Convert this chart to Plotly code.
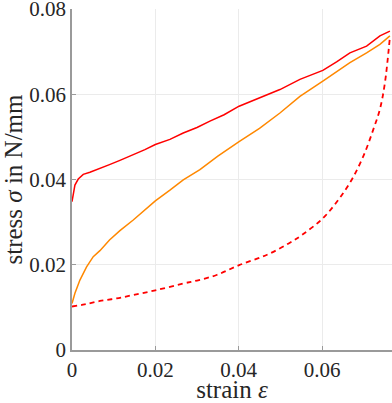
"""Courbes contrainte-deformation (charge / decharge)"""
from plotly.graph_objects import Scatter, Figure

# courbe de charge (rouge, trait plein)
x_charge = [0, 0.0003, 0.0007, 0.0015, 0.0027, 0.0043, 0.0067, 0.0090, 0.0115,
            0.0147, 0.0175, 0.0200, 0.0235, 0.0267, 0.0300, 0.0331, 0.0365,
            0.0401, 0.0435, 0.0467, 0.0499, 0.0547, 0.0575, 0.0602, 0.0635,
            0.0667, 0.0707, 0.0739, 0.0763]
y_charge = [0.0348, 0.0368, 0.0387, 0.0401, 0.0412, 0.0417, 0.0427, 0.0435, 0.0445,
            0.0458, 0.0470, 0.0482, 0.0494, 0.0509, 0.0522, 0.0537, 0.0552,
            0.0572, 0.0585, 0.0599, 0.0611, 0.0635, 0.0645, 0.0656, 0.0676,
            0.0697, 0.0713, 0.0737, 0.0748]

# courbe orange
x_orange = [0, 0.0003, 0.0007, 0.0019, 0.0035, 0.0051, 0.0067, 0.0090, 0.0115,
            0.0147, 0.0175, 0.0200, 0.0235, 0.0267, 0.0307, 0.0350, 0.0401,
            0.0450, 0.0499, 0.0547, 0.0602, 0.0667, 0.0707, 0.0739, 0.0763]
y_orange = [0.0109, 0.0120, 0.0133, 0.0164, 0.0195, 0.0219, 0.0233, 0.0258, 0.0280,
            0.0305, 0.0328, 0.0350, 0.0375, 0.0399, 0.0423, 0.0455, 0.0489,
            0.0520, 0.0556, 0.0595, 0.0631, 0.0674, 0.0697, 0.0717, 0.0737]

# courbe de decharge (rouge, tirets)
x_decharge = [0, 0.0030, 0.0067, 0.0107, 0.0147, 0.0200, 0.0267, 0.0300, 0.0347,
              0.0401, 0.0467, 0.0520, 0.0555, 0.0602, 0.0639, 0.0671, 0.0699,
              0.0723, 0.0739, 0.0751, 0.0763]
y_decharge = [0.0102, 0.0107, 0.0115, 0.0121, 0.0129, 0.0140, 0.0156, 0.0163, 0.0176,
              0.0199, 0.0223, 0.0250, 0.0272, 0.0309, 0.0352, 0.0399, 0.0454,
              0.0517, 0.0565, 0.0627, 0.0735]

x_ticks = [0, 0.02, 0.04, 0.06]
x_labels = ["0", "0.02", "0.04", "0.06"]
y_ticks = [0, 0.02, 0.04, 0.06, 0.08]
y_labels = ["0", "0.02", "0.04", "0.06", "0.08"]

police = "Liberation Serif"
gris = "#9a9a9a"

fig = Figure()
fig.add_trace(Scatter(x=x_decharge, y=y_decharge, mode="lines", line_shape="spline",
                      line=dict(color="#ff0000", width=1.8, dash="5px,4px")))
fig.add_trace(Scatter(x=x_orange, y=y_orange, mode="lines",
                      line=dict(color="#ff8800", width=1.5)))
fig.add_trace(Scatter(x=x_charge, y=y_charge, mode="lines",
                      line=dict(color="#ff0000", width=1.5)))

axe = dict(showline=True, linecolor=gris, linewidth=1.5, ticks="inside",
           ticklen=4, tickcolor=gris, showgrid=True, gridcolor="#ebebeb",
           gridwidth=1, zeroline=False, ticklabeloverflow="allow", automargin=False,
           tickfont=dict(family=police, size=21, color="#262626"))

fig.update_layout(
    width=392, height=403,
    margin=dict(l=72, r=0, t=9, b=53),
    plot_bgcolor="white", paper_bgcolor="white",
    showlegend=False,
    font=dict(family=police, size=21, color="#262626"),
    xaxis=dict(axe, range=[0, 0.0768], tickvals=x_ticks, ticktext=x_labels,
               title=dict(text="strain <i>ε</i>", standoff=9)),
    yaxis=dict(axe, range=[0, 0.08], tickvals=y_ticks, ticktext=y_labels,
               title=dict(text="stress <i>σ</i> in N/mm", standoff=8)),
)

# pas de marge autour de la figure dans la page, pas de barre d'outils
fig.write_html("out.html", config={"displayModeBar": False},
               post_script="document.body.style.margin='0';document.body.style.overflow='hidden';")
